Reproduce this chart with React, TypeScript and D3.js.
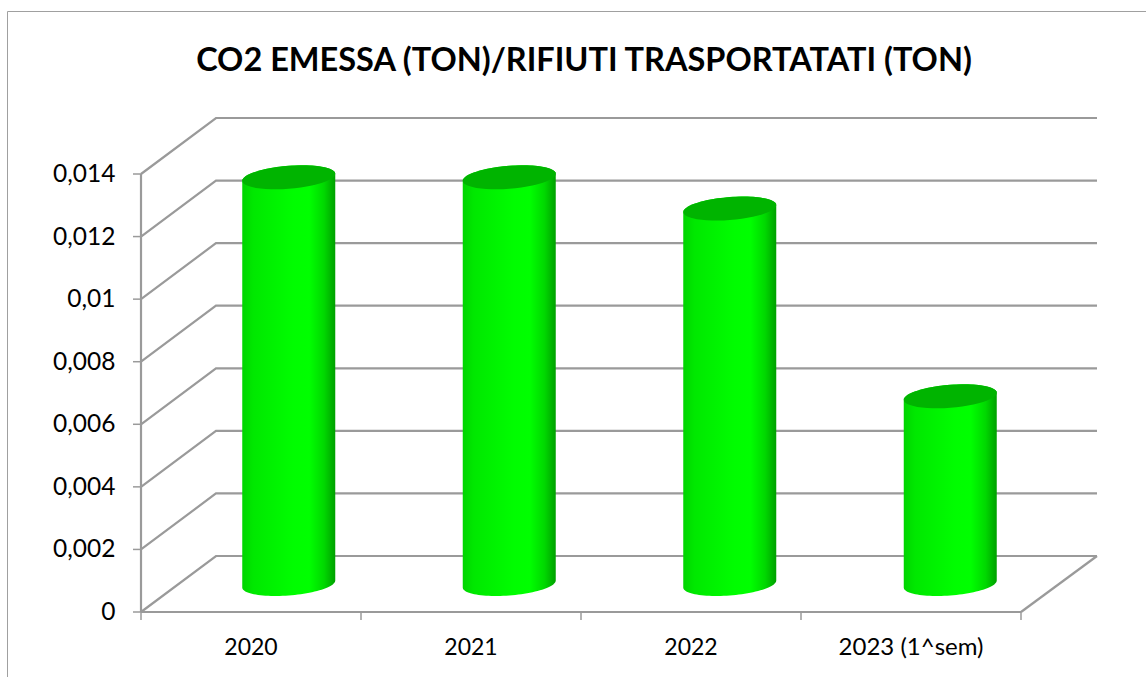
import React from "react";
import * as d3 from "d3";

const title = "CO2 EMESSA (TON)/RIFIUTI TRASPORTATATI (TON)";
const categories = ["2020", "2021", "2022", "2023 (1^sem)"];
const values = [0.013, 0.013, 0.012, 0.006];
const yTicks = [0, 0.002, 0.004, 0.006, 0.008, 0.01, 0.012, 0.014];
const yLabels = ["0", "0,002", "0,004", "0,006", "0,008", "0,01", "0,012", "0,014"];

const W = 1146, H = 677;
const FONT = "Lato, 'Open Sans', sans-serif";
const GRID = "#9a9a9a";
const depthX = 75, depthY = 56;
const x = d3.scaleBand<string>().domain(categories).range([141, 1021]);
const barX = d3.scaleBand<string>().domain(categories).range([141, 1023]);
const y = d3.scaleLinear().domain([0, 0.014]).range([612, 174]);
const rx = 46.5, ry = 11.5, tilt = 3.5;

function arc(cx: number, cy: number, from: number, to: number) {
  return d3.range(0, 49).map((i) => {
    const t = from + ((to - from) * i) / 48;
    return [cx + rx * Math.cos(t), cy + ry * Math.sin(t) - tilt * Math.cos(t)] as [number, number];
  });
}
const line = d3.line();

export default function App() {
  const bw = x.bandwidth();
  return (
    <svg width={W} height={H} viewBox={`0 0 ${W} ${H}`}
      style={{ position: "fixed", left: 0, top: 0, background: "#fff", display: "block" }}>
      <defs>
        <linearGradient id="cyl" x1="0" x2="1" y1="0" y2="0">
          <stop offset="0" stopColor="#00d400" />
          <stop offset="0.12" stopColor="#00e800" />
          <stop offset="0.55" stopColor="#00fd00" />
          <stop offset="0.72" stopColor="#00ff00" />
          <stop offset="0.88" stopColor="#00d800" />
          <stop offset="1" stopColor="#00a000" />
        </linearGradient>
      </defs>
      <path d="M7.5,677V11.5H1146" fill="none" stroke="#a0a0a0" strokeWidth={1} />
      <text x={584} y={71} textAnchor="middle" fontFamily={FONT} fontWeight={700} fontSize={32.5} fill="#000">{title}</text>

      {yTicks.map((t) => {
        const py = y(t);
        return (
          <g key={t}>
            <path d={line([[141, py], [141 + depthX, py - depthY], [1022 + depthX, py - depthY]])!}
              fill="none" stroke={GRID} strokeWidth={2.2} />
            <line x1={133} x2={141} y1={py} y2={py} stroke={GRID} strokeWidth={1.5} />
          </g>
        );
      })}
      <line x1={141} x2={141} y1={y(0.014)} y2={y(0)} stroke={GRID} strokeWidth={2.2} />
      <line x1={141} x2={1021} y1={y(0)} y2={y(0)} stroke={GRID} strokeWidth={2.2} />
      <line x1={1021} x2={1022 + depthX} y1={y(0)} y2={y(0) - depthY} stroke={GRID} strokeWidth={2.2} />
      {[...categories.map((c) => x(c)!), 1021].map((px) => (
        <line key={px} x1={px} x2={px} y1={612} y2={620} stroke={GRID} strokeWidth={1.5} />
      ))}

      {values.map((v, i) => {
        const cx = barX(categories[i])! + barX.bandwidth() / 2 + depthX / 2;
        const top = y(v) - depthY / 2;
        const bottom = y(0) - depthY / 2;
        const body = [...arc(cx, bottom, 0, Math.PI), ...arc(cx, top, Math.PI, 2 * Math.PI)];
        return (
          <g key={categories[i]}>
            <path d={line(body)! + "Z"} fill="url(#cyl)" />
            <path d={line(arc(cx, top, 0, 2 * Math.PI))! + "Z"} fill="#00b400" />
          </g>
        );
      })}

      {yTicks.map((t, i) => (
        <text key={t} x={115.5} y={y(t) + 8} textAnchor="end" fontFamily={FONT} fontSize={24.5} fill="#000">{yLabels[i]}</text>
      ))}
      {categories.map((c, i) => (
        <text key={c} x={x(c)! + bw / 2} y={655} textAnchor="middle" fontFamily={FONT} fontSize={i === 3 ? 24 : 23} fill="#000">{c}</text>
      ))}
    </svg>
  );
}
